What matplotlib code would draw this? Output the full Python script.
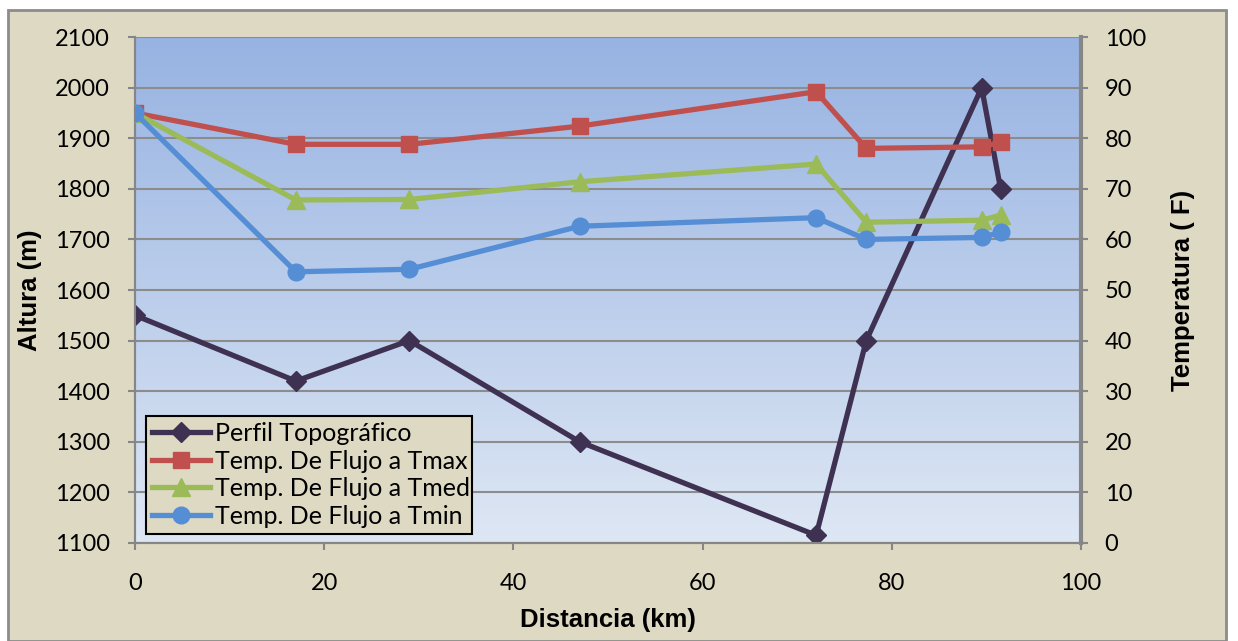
import numpy as np
import matplotlib
matplotlib.use("Agg")
import matplotlib.pyplot as plt
from matplotlib.patches import Rectangle
from matplotlib.colors import LinearSegmentedColormap

# ---- data ----
distancia = [0, 17, 29, 47, 72, 77.3, 89.5, 91.5]
perfil = [1550, 1420, 1500, 1300, 1115, 1500, 2000, 1800]
t_max = [85.0, 78.8, 78.8, 82.4, 89.2, 78.0, 78.3, 79.2]
t_med = [85.0, 67.8, 67.9, 71.4, 74.9, 63.4, 63.8, 64.8]
t_min = [85.0, 53.6, 54.1, 62.6, 64.3, 60.0, 60.4, 61.4]

labels = ["Perfil Topográfico", "Temp. De Flujo a Tmax",
          "Temp. De Flujo a Tmed", "Temp. De Flujo a Tmin"]
left_ticks = list(range(1100, 2101, 100))
right_ticks = list(range(0, 101, 10))
x_ticks = list(range(0, 101, 20))

W, H = 1238, 641
fig = plt.figure(figsize=(W / 100, H / 100), dpi=100)
fig.patch.set_facecolor("white")

beige = "#DDD9C3"
fig.patches.append(Rectangle((8 / W, 0), (1226 - 8) / W, 1 - 10 / H,
                             transform=fig.transFigure, facecolor=beige,
                             edgecolor="#8C8C8C", linewidth=2.0, zorder=-10))

l, r, t, b = 135, 1081, 37.1, 542.9
ax = fig.add_axes([l / W, 1 - b / H, (r - l) / W, (b - t) / H])
ax.set_facecolor("none")

# gradient background (light at bottom, darker blue at top)
cmap = LinearSegmentedColormap.from_list("g", ["#DEE7F4", "#97B3E2"])
grad = np.linspace(0, 1, 256).reshape(-1, 1)
ax.imshow(grad, aspect="auto", cmap=cmap, extent=[0, 100, 1100, 2100],
          zorder=0, origin="lower")

ax.set_xlim(0, 100)
ax.set_ylim(1100, 2100)
ax.set_yticks(left_ticks)
ax.set_xticks(x_ticks)
ax.grid(axis="y", color="#8C8C8C", linewidth=1.5, zorder=1)
ax.set_axisbelow(True)

c_topo = "#3F3151"
c_max = "#C0504D"
c_med = "#9BBB59"
c_min = "#558ED5"
lw = 3.8

h1, = ax.plot(distancia, perfil, color=c_topo, lw=lw, marker="D", ms=10,
              mfc=c_topo, mec=c_topo, zorder=3, label=labels[0])

ax2 = ax.twinx()
ax2.set_ylim(0, 100)
ax2.set_yticks(right_ticks)
h2, = ax2.plot(distancia, t_max, color=c_max, lw=lw, marker="s", ms=12,
               mfc=c_max, mec=c_max, zorder=3, label=labels[1])
h3, = ax2.plot(distancia, t_med, color=c_med, lw=lw, marker="^", ms=13,
               mfc=c_med, mec=c_med, zorder=3, label=labels[2])
h4, = ax2.plot(distancia, t_min, color=c_min, lw=lw, marker="o", ms=12,
               mfc=c_min, mec=c_min, zorder=3, label=labels[3])

spine_c = "#868686"
for a in (ax, ax2):
    for s in a.spines.values():
        s.set_color(spine_c)
        s.set_linewidth(1.5)
    a.spines["top"].set_visible(False)
    a.tick_params(colors=spine_c, labelcolor="black", length=5, width=1.5)
ax2.spines["right"].set_linewidth(3.0)
ax.tick_params(axis="y", pad=13)
ax2.tick_params(axis="y", pad=12)
ax.tick_params(axis="x", pad=17)
for lab in ax.get_xticklabels() + ax.get_yticklabels() + ax2.get_yticklabels():
    lab.set_fontfamily("Lato")
    lab.set_fontsize(17)

lab_font = dict(family="Liberation Sans", weight="bold", size=18.5)
fig.text((l + r) / 2 / W, 1 - 620 / H, "Distancia (km)", ha="center", va="center",
         **lab_font)
fig.text(30 / W, 1 - 290 / H, "Altura (m)", ha="center", va="center",
         rotation=90, **lab_font)
fig.text(1183 / W, 1 - 290 / H, "Temperatura ( F)", ha="center", va="center",
         rotation=90, **lab_font)

leg = ax2.legend(handles=[h1, h2, h3, h4], loc="lower left",
                 bbox_to_anchor=(0.0116, 0.0176, 0.3446, 0.22), mode="expand",
                 borderaxespad=0, frameon=True, fancybox=False,
                 facecolor=beige, edgecolor="black", framealpha=1,
                 prop=dict(family="Lato", size=18), handlelength=2.3,
                 handletextpad=0.2, labelspacing=0.18, borderpad=0.25)
leg.get_frame().set_linewidth(1.5)

fig.savefig("out.png", dpi=100, facecolor=fig.get_facecolor())
